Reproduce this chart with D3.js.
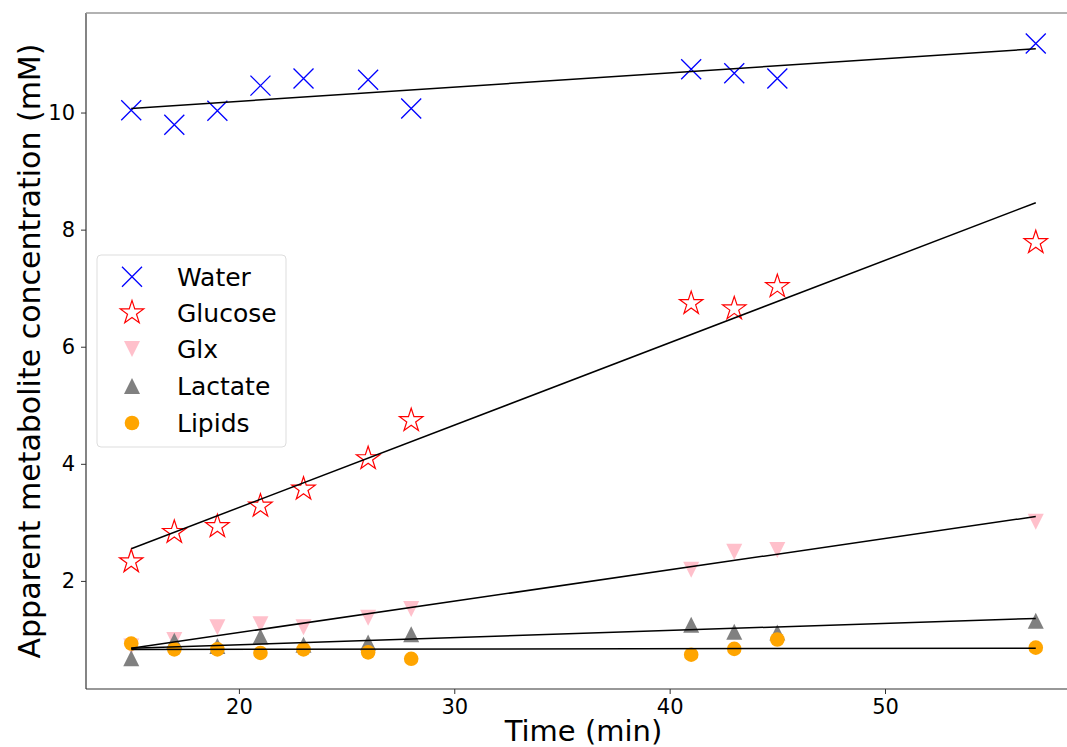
<!DOCTYPE html>
<html>
<head>
<meta charset="utf-8">
<script src="https://cdn.jsdelivr.net/npm/d3@7"></script>
<style>
  body { margin: 0; background: #fff; }
  svg text { font-family: "DejaVu Sans", sans-serif; }
</style>
</head>
<body>
<svg id="chart" width="1067" height="747"></svg>
<script>
// sample times (min)
var times = [15, 17, 19, 21, 23, 26, 28, 41, 43, 45, 57];

var water   = [10.04, 9.79, 10.03, 10.46, 10.58, 10.56, 10.07, 10.74, 10.67, 10.58, 11.18];
var glucose = [2.33, 2.83, 2.93, 3.28, 3.57, 4.09, 4.74, 6.74, 6.65, 7.03, 7.78];
var glx     = [0.88, 0.99, 1.21, 1.26, 1.21, 1.37, 1.52, 2.19, 2.50, 2.53, 3.01];
var lactate = [0.68, 0.98, 0.89, 1.05, 0.91, 0.95, 1.09, 1.25, 1.13, 1.12, 1.32];
var lipids  = [0.93, 0.83, 0.83, 0.77, 0.83, 0.78, 0.67, 0.74, 0.84, 1.00, 0.86];

// fitted line values at first and last time point
var fitTimes   = [15, 57];
var waterFit   = [10.07, 11.09];
var glucoseFit = [2.55, 8.46];
var glxFit     = [0.85, 3.10];
var lactateFit = [0.85, 1.36];
var lipidsFit  = [0.83, 0.85];

var names = ["Water", "Glucose", "Glx", "Lactate", "Lipids"];
var xTicks = [20, 30, 40, 50];
var yTicks = [2, 4, 6, 8, 10];

var series = [
    { name: names[0], values: water,   fit: waterFit,   marker: "x",    color: "#0000ff" },
    { name: names[1], values: glucose, fit: glucoseFit, marker: "star", color: "#ff0000" },
    { name: names[2], values: glx,     fit: glxFit,     marker: "down", color: "#ffc0cb" },
    { name: names[3], values: lactate, fit: lactateFit, marker: "up",   color: "#808080" },
    { name: names[4], values: lipids,  fit: lipidsFit,  marker: "dot",  color: "#ffa500" }
];

var svg = d3.select("#chart");
var plotLeft = 86, plotTop = 13, plotBottom = 689, plotRight = 1081;

var x = d3.scaleLinear().domain([12.9, 59.1]).range([plotLeft, plotRight]);
var y = d3.scaleLinear().domain([0.154, 11.70]).range([plotBottom, plotTop]);

function drawMarker(g, type, color) {
    if (type == "x") {
        var s = 10;
        g.append("path")
            .attr("d", "M" + (-s) + "," + (-s) + "L" + s + "," + s + "M" + (-s) + "," + s + "L" + s + "," + (-s))
            .attr("stroke", color).attr("stroke-width", 1.3).attr("fill", "none");
    } else if (type == "star") {
        g.append("path")
            .attr("d", d3.symbol().type(d3.symbolStar).size(170)())
            .attr("fill", "#fff").attr("stroke", color).attr("stroke-width", 1.2);
    } else if (type == "down") {
        g.append("path")
            .attr("d", "M-8,-8L8,-8L0,8Z")
            .attr("fill", color);
    } else if (type == "up") {
        g.append("path")
            .attr("d", "M-8,8L8,8L0,-8Z")
            .attr("fill", color);
    } else {
        g.append("circle").attr("r", 7.3).attr("fill", color);
    }
}

// points
series.forEach(function(s) {
    var pts = svg.append("g").selectAll("g")
        .data(s.values)
        .enter().append("g")
        .attr("transform", function(d, i) {
            return "translate(" + x(times[i]) + "," + y(d) + ")";
        });
    pts.each(function() { drawMarker(d3.select(this), s.marker, s.color); });
});

// fit lines
var line = d3.line()
    .x(function(d, i) { return x(fitTimes[i]); })
    .y(function(d) { return y(d); });

series.forEach(function(s) {
    svg.append("path")
        .attr("d", line(s.fit))
        .attr("fill", "none")
        .attr("stroke", "#000")
        .attr("stroke-width", 1.5);
});

// axes
var xAxis = svg.append("g")
    .attr("transform", "translate(0," + plotBottom + ")")
    .call(d3.axisBottom(x).tickValues(xTicks).tickSize(5).tickPadding(5));
var yAxis = svg.append("g")
    .attr("transform", "translate(" + plotLeft + ",0)")
    .call(d3.axisLeft(y).tickValues(yTicks).tickSize(5).tickPadding(6));

[xAxis, yAxis].forEach(function(a) {
    a.select(".domain").remove();
    a.selectAll(".tick line").attr("stroke", "#333");
    a.selectAll(".tick text")
        .attr("fill", "#000")
        .attr("font-size", 21)
        .attr("font-family", "DejaVu Sans");
});

// spines
svg.append("line").attr("x1", plotLeft).attr("x2", plotLeft).attr("y1", plotTop).attr("y2", plotBottom)
    .attr("stroke", "#333").attr("stroke-width", 1.2);
svg.append("line").attr("x1", plotLeft).attr("x2", plotRight).attr("y1", plotBottom).attr("y2", plotBottom)
    .attr("stroke", "#333").attr("stroke-width", 1.2);
svg.append("line").attr("x1", plotLeft).attr("x2", plotRight).attr("y1", plotTop).attr("y2", plotTop)
    .attr("stroke", "#999").attr("stroke-width", 1.5);

// axis labels
svg.append("text")
    .attr("x", (plotLeft + plotRight) / 2)
    .attr("y", 741)
    .style("text-anchor", "middle")
    .style("font-size", "29px")
    .text("Time (min)");

svg.append("text")
    .attr("transform", "translate(40," + (plotTop + plotBottom) / 2 + ") rotate(-90)")
    .style("text-anchor", "middle")
    .style("font-size", "30px")
    .text("Apparent metabolite concentration (mM)");

// legend
var legend = svg.append("g");
legend.append("rect")
    .attr("x", 97).attr("y", 255)
    .attr("width", 189).attr("height", 192)
    .attr("rx", 4)
    .attr("fill", "#fff")
    .attr("stroke", "#ddd");

var rowY = [276.7, 312.7, 349, 386, 423];
series.forEach(function(s, i) {
    var row = legend.append("g").attr("transform", "translate(132," + rowY[i] + ")");
    drawMarker(row, s.marker, s.color);
    legend.append("text")
        .attr("x", 177)
        .attr("y", rowY[i])
        .attr("dy", "0.36em")
        .style("font-size", "25px")
        .text(s.name);
});
</script>
</body>
</html>
